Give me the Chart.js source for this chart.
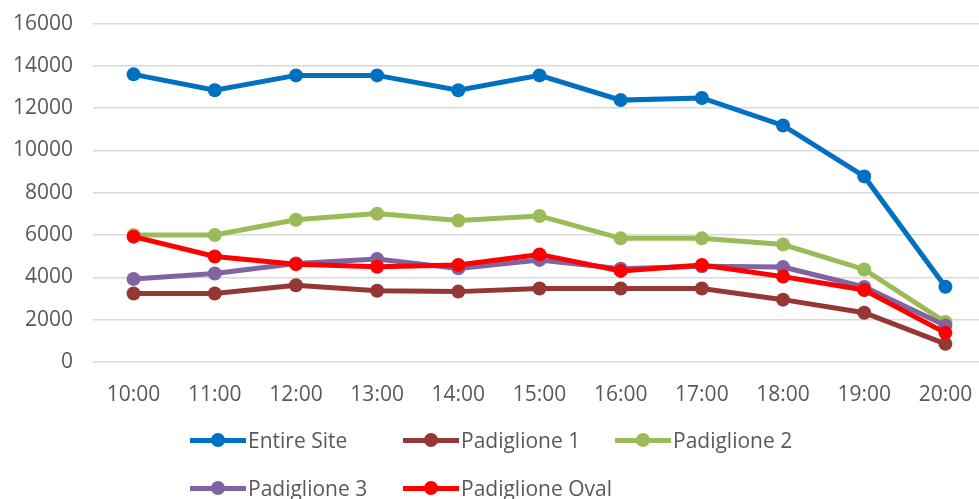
<!DOCTYPE html>
<html>
<head>
<meta charset="utf-8">
<script src="https://cdn.jsdelivr.net/npm/chart.js@4.4.1/dist/chart.umd.min.js"></script>
<style>
  body { margin: 0; background: #fff; }
  #wrap { position: relative; width: 979px; height: 499px; overflow: hidden; }
  #lineChart { position: absolute; left: 0; top: -9px; }
  #legend { position: absolute; left: 190px; top: 424px; width: 700px;
            display: grid; grid-template-columns: 213px 212px 250px; row-gap: 16px;
            font-family: "Open Sans", sans-serif; font-size: 21px; color: #595959; }
  .item { display: flex; align-items: center; height: 32px; white-space: nowrap; }
  .sw { position: relative; width: 56px; height: 5px; margin-right: 2px; }
  .sw i { position: absolute; left: 21px; top: -5px; width: 14px; height: 14px; border-radius: 50%; }
</style>
</head>
<body>
<div id="wrap">
  <canvas id="lineChart" width="993" height="499"></canvas>
  <div id="legend"></div>
</div>
<script>
// Visitors per hour
const hours = ['10:00', '11:00', '12:00', '13:00', '14:00', '15:00', '16:00', '17:00', '18:00', '19:00', '20:00'];

const entireSite = [13600, 12850, 13550, 13550, 12850, 13550, 12380, 12480, 11180, 8770, 3550];
const padiglione1 = [3230, 3230, 3620, 3360, 3320, 3470, 3470, 3470, 2940, 2320, 850];
const padiglione2 = [6000, 6000, 6720, 7010, 6680, 6900, 5840, 5840, 5550, 4370, 1880];
const padiglione3 = [3920, 4180, 4650, 4860, 4420, 4820, 4400, 4520, 4480, 3540, 1720];
const padiglioneOval = [5920, 4980, 4620, 4500, 4580, 5080, 4300, 4580, 4030, 3400, 1370];

const yTicks = [0, 2000, 4000, 6000, 8000, 10000, 12000, 14000, 16000];

const seriesNames = ['Entire Site', 'Padiglione 1', 'Padiglione 2', 'Padiglione 3', 'Padiglione Oval'];
const seriesColors = ['#0070c0', '#953735', '#9bbb59', '#8064a2', '#ff0000'];
const seriesData = [entireSite, padiglione1, padiglione2, padiglione3, padiglioneOval];

const datasets = seriesData.map((data, i) => ({
    label: seriesNames[i],
    data: data,
    borderColor: seriesColors[i],
    backgroundColor: seriesColors[i],
    borderWidth: 5,
    pointRadius: 7,
    pointHoverRadius: 7,
    pointBorderWidth: 0,
    tension: 0,
    order: seriesData.length - i // later series drawn on top, like Excel
}));

const ctx = document.getElementById('lineChart').getContext('2d');
new Chart(ctx, {
    type: 'line',
    data: { labels: hours, datasets: datasets },
    options: {
        responsive: false,
        animation: false,
        layout: { padding: { top: 1, right: 0, bottom: 69, left: 0 } },
        plugins: {
            legend: { display: false },
            tooltip: { enabled: false }
        },
        scales: {
            x: {
                offset: true,
                grid: { display: false },
                border: { display: false },
                ticks: {
                    color: '#595959',
                    padding: 13,
                    maxRotation: 0,
                    font: { family: 'Open Sans', size: 21 }
                }
            },
            y: {
                min: 0,
                max: 16000,
                afterBuildTicks: axis => { axis.ticks = yTicks.map(v => ({ value: v })); },
                afterFit: axis => { axis.width = 93; },
                grid: { color: '#d9d9d9', lineWidth: 1.5, drawTicks: false },
                border: { display: false },
                ticks: {
                    color: '#595959',
                    padding: 20,
                    font: { family: 'Open Sans', size: 21 },
                    callback: value => String(value)
                }
            }
        }
    }
});

// Excel style legend grid
const legend = document.getElementById('legend');
seriesNames.forEach((name, i) => {
    const item = document.createElement('div');
    item.className = 'item';
    item.innerHTML = `<span class="sw" style="background:${seriesColors[i]}"><i style="background:${seriesColors[i]}"></i></span>${name}`;
    legend.appendChild(item);
});
</script>
</body>
</html>
